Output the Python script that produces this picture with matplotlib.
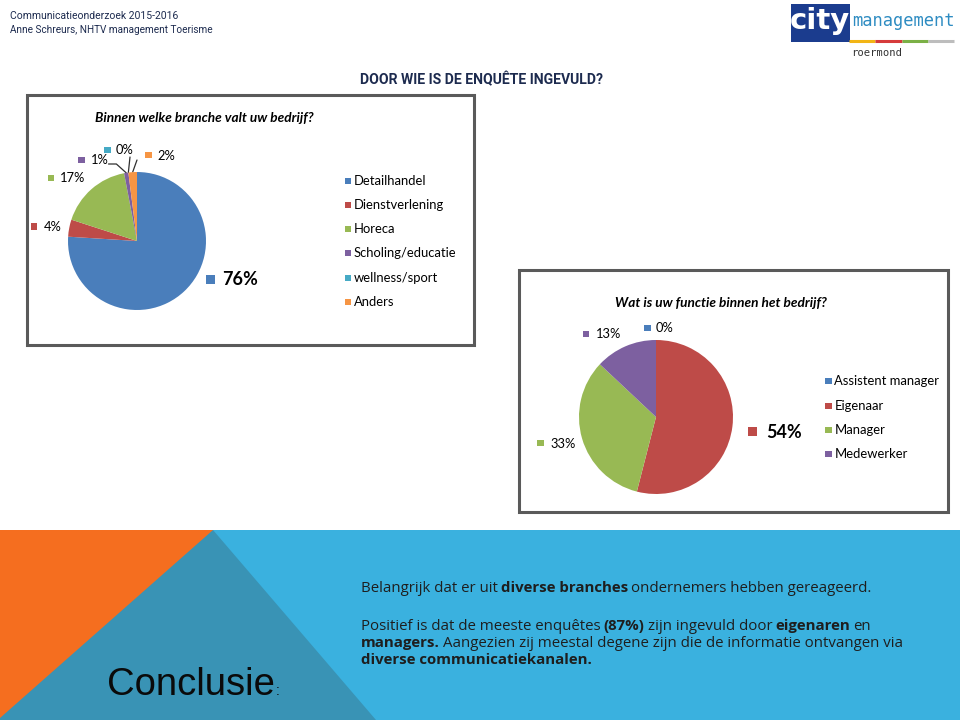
import matplotlib
matplotlib.use("Agg")
import matplotlib.pyplot as plt
from matplotlib.patches import Rectangle, Polygon
import numpy as np

# ---------------- data ----------------
branche_labels = ['Detailhandel', 'Dienstverlening', 'Horeca',
                  'Scholing/educatie', 'wellness/sport', 'Anders']
branche_pct = [76, 4, 17, 1, 0, 2]

functie_labels = ['Assistent manager', 'Eigenaar', 'Manager', 'Medewerker']
functie_pct = [0, 54, 33, 13]

title_top = 'DOOR WIE IS DE ENQUÊTE INGEVULD?'
title_pie1 = 'Binnen welke branche valt uw bedrijf?'
title_pie2 = 'Wat is uw functie binnen het bedrijf?'
header_lines = ['Communicatieonderzoek 2015-2016',
                'Anne Schreurs, NHTV management Toerisme']

# ---------------- style ----------------
branche_colors = ['#4A7EBB', '#BE4B48', '#98B954', '#7D60A0', '#46AAC5', '#F69544']
functie_colors = ['#4A7EBB', '#BE4B48', '#98B954', '#7D60A0']
CAL = 'Lato'
W, H = 960, 720

fig = plt.figure(figsize=(9.6, 7.2), dpi=100)
ov = fig.add_axes([0, 0, 1, 1])
ov.set_xlim(0, W)
ov.set_ylim(H, 0)
ov.axis('off')
ov.set_zorder(0)


def pie_axes(cx, cy, r):
    ax = fig.add_axes([(cx - r) / W, (H - cy - r) / H, 2 * r / W, 2 * r / H])
    ax.set_zorder(2)
    return ax


# ---------- header ----------
ov.text(10, 16, header_lines[0], fontsize=7.5, family='Roboto', color='#1d2b4f', va='center')
ov.text(10, 30, header_lines[1], fontsize=7.2, family='Roboto', color='#1d2b4f', va='center')
ov.text(481, 80, title_top, fontsize=10.1, family='Roboto', weight='bold',
        color='#1d2b4f', va='center', ha='center')

# logo
ov.add_patch(Rectangle((791, 4), 59, 38, facecolor='#1B3C8E', edgecolor='none'))
ov.text(820, 21, 'city', fontsize=21, family='DejaVu Sans', weight='bold',
        color='white', ha='center', va='center')
ov.text(903, 21, 'management', fontsize=12.3, family='DejaVu Sans Mono',
        color='#2E8CC2', ha='center', va='center')
for x0, x1, c in [(849, 875, '#F2B515'), (875, 902, '#D63B3B'),
                  (902, 928, '#7BB046'), (928, 954, '#BDBDBD')]:
    ov.plot([x0, x1], [40.5, 40.5], color=c, lw=2.2, solid_capstyle='butt')
ov.text(877, 53, 'roermond', fontsize=7.6, family='DejaVu Sans Mono',
        color='#333333', ha='center', va='center')

# ---------- chart boxes ----------
ov.add_patch(Rectangle((26.5, 94.5), 447, 250, facecolor='white',
                       edgecolor='#5a5a5a', lw=2.2))
ov.add_patch(Rectangle((518.5, 269.5), 429, 242, facecolor='white',
                       edgecolor='#5a5a5a', lw=2.2))

ov.text(204, 118, title_pie1, fontsize=9.8, family=CAL, weight='bold',
        style='italic', ha='center', va='center', color='black')
ov.text(721, 303, title_pie2, fontsize=9.8, family=CAL, weight='bold',
        style='italic', ha='center', va='center', color='black')

# ---------- pie 1 ----------
p1_c, p1_r = (137, 241), 69
ax1 = pie_axes(p1_c[0], p1_c[1], p1_r)
ax1.pie(branche_pct, colors=branche_colors, startangle=90, counterclock=False,
        radius=1, wedgeprops=dict(linewidth=0))
ax1.set_xlim(-1, 1)
ax1.set_ylim(-1, 1)
ax1.axis('off')

# label layout: (square centre x, y, square size, text x, fontsize, bold)
p1_lab = [(210.5, 279, 9, 222, 13, True),
          (34, 226.5, 6.5, 44, 9.3, False),
          (51, 178, 6.5, 60, 9.3, False),
          (81.5, 160, 6.5, 91, 9.3, False),
          (107.5, 150, 6.5, 116, 9.3, False),
          (148.5, 155, 6.5, 157, 9.3, False)]
for v, c, (sx, sy, ss, tx, fs, b) in zip(branche_pct, branche_colors, p1_lab):
    ov.add_patch(Rectangle((sx - ss / 2, sy - ss / 2), ss, ss, facecolor=c, edgecolor='none'))
    ov.text(tx, sy + 0.5, f'{v}%', fontsize=fs, family=CAL,
            weight='bold' if b else 'normal', va='center', ha='left')


def wedge_mid(vals, i):
    tot = sum(vals)
    cum = sum(vals[:i]) + vals[i] / 2
    th = np.deg2rad(90 - 360 * cum / tot)
    return np.cos(th), np.sin(th)


# leader lines for small slices (start point near text, end on wedge rim)
leaders = {3: ((108.5, 164), "angle,angleA=0,angleB=-42,rad=0"),
           4: ((130, 157), "arc3"),
           5: ((137, 160), "arc3")}
for i, (start, cs) in leaders.items():
    ov.annotate('', xy=wedge_mid(branche_pct, i), xycoords=ax1.transData,
                xytext=start, textcoords='data',
                arrowprops=dict(arrowstyle='-', color='#303030', lw=0.9,
                                shrinkA=0, shrinkB=0, connectionstyle=cs),
                zorder=5, annotation_clip=False)

# legend 1
leg1_y = [181, 205, 229, 253, 278, 302]
for lab, c, y in zip(branche_labels, branche_colors, leg1_y):
    ov.add_patch(Rectangle((344.5, y - 3.3), 6.6, 6.6, facecolor=c, edgecolor='none'))
    ov.text(354, y, lab, fontsize=9.4, family=CAL, va='center', ha='left')

# ---------- pie 2 ----------
p2_c, p2_r = (656, 417), 77
ax2 = pie_axes(p2_c[0], p2_c[1], p2_r)
ax2.pie(functie_pct, colors=functie_colors, startangle=90, counterclock=False,
        radius=1, wedgeprops=dict(linewidth=0))
ax2.set_xlim(-1, 1)
ax2.set_ylim(-1, 1)
ax2.axis('off')

p2_lab = [(647.5, 328, 6.5, 656, 9.3, False),
          (752.5, 431.5, 9, 766, 13, True),
          (540.5, 443, 6.5, 550, 9.3, False),
          (586, 334, 6.5, 596, 9.3, False)]
for v, c, (sx, sy, ss, tx, fs, b) in zip(functie_pct, functie_colors, p2_lab):
    ov.add_patch(Rectangle((sx - ss / 2, sy - ss / 2), ss, ss, facecolor=c, edgecolor='none'))
    ov.text(tx, sy + 0.5, f'{v}%', fontsize=fs, family=CAL,
            weight='bold' if b else 'normal', va='center', ha='left')

leg2_y = [381, 406, 430, 454]
for lab, c, y in zip(functie_labels, functie_colors, leg2_y):
    ov.add_patch(Rectangle((825, y - 3.3), 6.6, 6.6, facecolor=c, edgecolor='none'))
    ov.text(834.5, y, lab, fontsize=9.4, family=CAL, va='center', ha='left')

# ---------- bottom conclusion band ----------
ov.add_patch(Rectangle((0, 530), W, H - 530, facecolor='#3AB1DF', edgecolor='none'))
ov.add_patch(Polygon([(213, 530), (376, 720), (0, 720), (0, 530)],
                     closed=True, facecolor='#3993B5', edgecolor='none'))
ov.add_patch(Polygon([(0, 530), (213, 530), (0, 718)], closed=True,
                     facecolor='#F56E1F', edgecolor='none'))

ov.text(107, 695, 'Conclusie', fontsize=27.5, family='Liberation Sans',
        color='#0a0a0a', ha='left', va='baseline')
ov.text(276, 695, ':', fontsize=10, family='Liberation Sans',
        color='#0a0a0a', ha='left', va='baseline')

body = [
    [('Belangrijk dat er uit', 'normal'), ('diverse branches', 'bold'),
     ('ondernemers hebben gereageerd.', 'normal')],
    [('Positief is dat de meeste enquêtes', 'normal'), ('(87%)', 'bold'),
     ('zijn ingevuld door', 'normal'), ('eigenaren', 'bold'), ('en', 'normal')],
    [('managers.', 'bold'), ('Aangezien zij meestal degene zijn die de informatie ontvangen via', 'normal')],
    [('diverse communicatiekanalen.', 'bold')],
]
body_y = [592, 630, 647, 664]
BFS = 10.85
BFAM = 'Open Sans'
renderer = fig.canvas.get_renderer()


def text_w(s, weight):
    t = ov.text(0, 0, s, fontsize=BFS, family=BFAM, weight=weight)
    w = t.get_window_extent(renderer).width
    t.remove()
    return w


space_w = text_w('a a', 'normal') - text_w('aa', 'normal') - 0.8
for parts, y in zip(body, body_y):
    x = 361
    for seg, wt in parts:
        t = ov.text(x, y, seg, fontsize=BFS, family=BFAM, weight=wt,
                    color='#1e1e1e', ha='left', va='baseline')
        x += t.get_window_extent(renderer).width + space_w

fig.savefig('out.png', dpi=100)
